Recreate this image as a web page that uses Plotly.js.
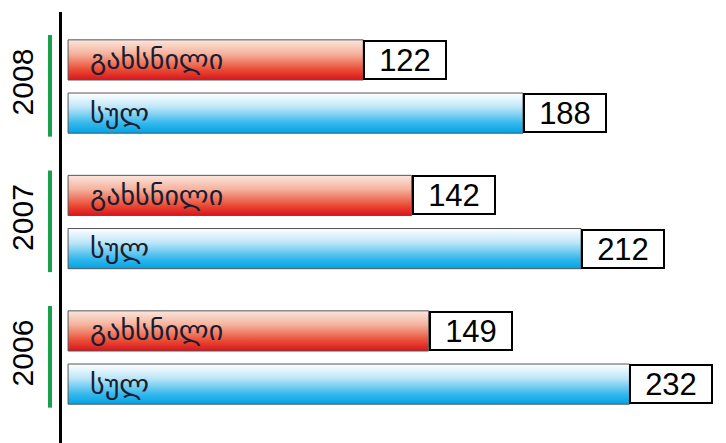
<!DOCTYPE html>
<html>
<head>
<meta charset="utf-8">
<script src="https://cdn.plot.ly/plotly-3.0.1.min.js"></script>
<style>
html,body{margin:0;padding:0;background:#fff;}
#chart{width:726px;height:443px;}
</style>
</head>
<body>
<div id="chart"></div>
<script>
// Data
const years = ['2008', '2007', '2006'];
const openedLabel = 'გახსნილი';
const totalLabel = 'სულ';
const openedValues = [122, 142, 149];
const totalValues = [188, 212, 232];

// Styling constants
const W = 726, H = 443;
const marginL = 62, marginR = 0, marginT = 12, marginB = 0;
const plotW = W - marginL - marginR;
const bargap = 0.215, bargroupgap = 0.245;
const slotOffset = (1 - bargap) / 4;

const traces = [
  {
    type: 'bar', orientation: 'h', name: openedLabel,
    y: years, x: openedValues,
    marker: {color: '#e8402c', line: {color: '#555', width: 1}},
    hoverinfo: 'skip'
  },
  {
    type: 'bar', orientation: 'h', name: totalLabel,
    y: years, x: totalValues,
    marker: {color: '#22b0ea', line: {color: '#555', width: 1}},
    hoverinfo: 'skip'
  }
];

const annotations = [];
const shapes = [];
years.forEach((yr, i) => {
  const rows = [
    {label: openedLabel, val: openedValues[i], pos: i - slotOffset},
    {label: totalLabel, val: totalValues[i], pos: i + slotOffset}
  ];
  rows.forEach(r => {
    annotations.push({
      x: 0, y: r.pos, xref: 'x', yref: 'y', xanchor: 'left', yanchor: 'middle',
      xshift: 20, text: r.label, showarrow: false,
      font: {family: 'DejaVu Sans', size: 28, color: '#1c1c30'}
    });
    annotations.push({
      x: r.val, y: r.pos, xref: 'x', yref: 'y', xanchor: 'left', yanchor: 'middle',
      text: String(r.val), showarrow: false, width: 80, height: 36,
      align: 'center', valign: 'middle',
      bgcolor: '#ffffff', bordercolor: '#000000', borderwidth: 2, borderpad: 0,
      font: {family: 'Liberation Sans, Arial, sans-serif', size: 31, color: '#000'}
    });
  });
  shapes.push({
    type: 'line', xref: 'paper', yref: 'y',
    x0: (50 - marginL) / plotW, x1: (50 - marginL) / plotW,
    y0: i - 0.38, y1: i + 0.37,
    line: {color: '#1aa04a', width: 4}
  });
});

const layout = {
  width: W, height: H,
  margin: {l: marginL, r: marginR, t: marginT, b: marginB, pad: 0},
  paper_bgcolor: '#fff', plot_bgcolor: '#fff',
  showlegend: false,
  barmode: 'group', bargap: bargap, bargroupgap: bargroupgap,
  xaxis: {range: [-2.5, 271.9], visible: false, fixedrange: true},
  yaxis: {
    type: 'category', categoryarray: years, categoryorder: 'array',
    range: [2.631, -0.55],
    showline: true, linecolor: '#000', linewidth: 3,
    showgrid: false, zeroline: false, ticks: '',
    tickangle: -90, ticklabelstandoff: 14,
    tickfont: {family: 'Liberation Sans, Arial, sans-serif', size: 30, color: '#000'},
    fixedrange: true
  },
  annotations: annotations,
  shapes: shapes
};

function applyGradients(gd) {
  const svg = gd.querySelector('svg.main-svg');
  if (!svg) return;
  const ns = 'http://www.w3.org/2000/svg';
  let defs = svg.querySelector('defs');
  if (!defs) { defs = document.createElementNS(ns, 'defs'); svg.insertBefore(defs, svg.firstChild); }
  const grads = {
    gradRed: [['0', '#fbe6de'], ['0.35', '#f5b29c'], ['0.75', '#ea4a34'], ['1', '#d8141c']],
    gradBlue: [['0', '#ffffff'], ['0.35', '#bde6f8'], ['0.75', '#35b8ec'], ['1', '#00a4e4']]
  };
  Object.keys(grads).forEach(id => {
    if (defs.querySelector('#' + id)) return;
    const g = document.createElementNS(ns, 'linearGradient');
    g.setAttribute('id', id);
    g.setAttribute('x1', '0'); g.setAttribute('y1', '0');
    g.setAttribute('x2', '0'); g.setAttribute('y2', '1');
    grads[id].forEach(s => {
      const st = document.createElementNS(ns, 'stop');
      st.setAttribute('offset', s[0]);
      st.setAttribute('stop-color', s[1]);
      g.appendChild(st);
    });
    defs.appendChild(g);
  });
  const traceGroups = gd.querySelectorAll('.barlayer .trace');
  const ids = ['gradRed', 'gradBlue'];
  traceGroups.forEach((tg, k) => {
    tg.querySelectorAll('path').forEach(p => { p.style.fill = 'url(#' + ids[k] + ')'; });
  });
}

const gd = document.getElementById('chart');
Plotly.newPlot(gd, traces, layout, {staticPlot: true, displayModeBar: false}).then(applyGradients);
</script>
</body>
</html>
